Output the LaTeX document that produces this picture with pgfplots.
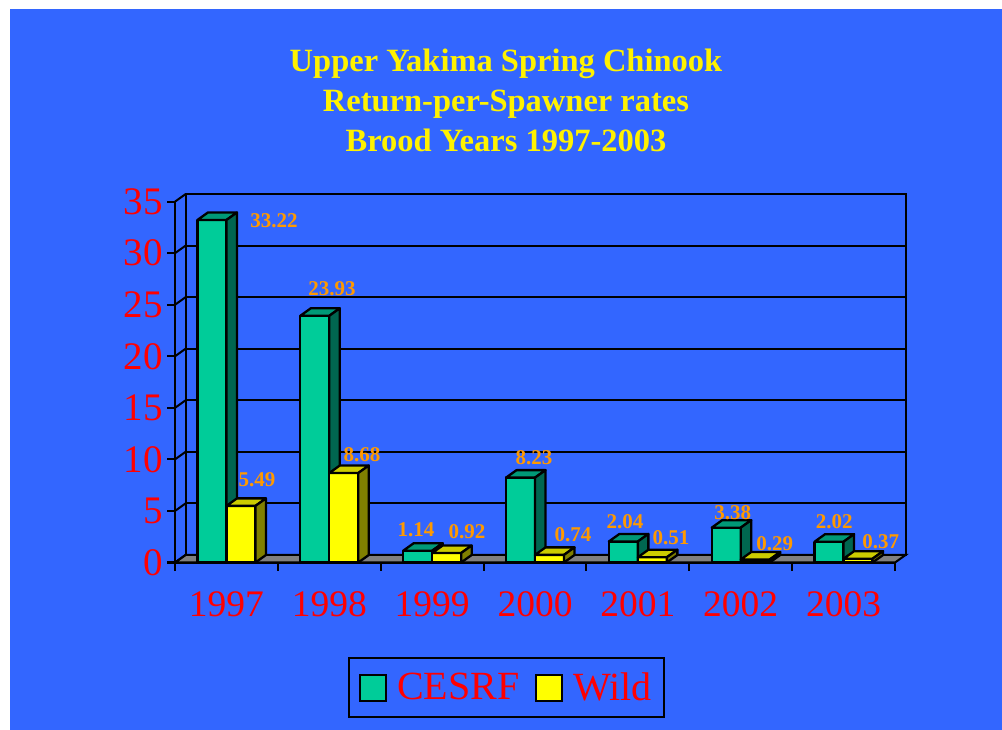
\documentclass[border=0pt]{standalone}
\usepackage{pgfplots}
\pgfplotsset{compat=1.18}
\usepackage{pgfplotstable}
\usepackage{fontspec}
\setmainfont{Liberation Serif}

\definecolor{bg}{HTML}{3366FF}
\definecolor{cfront}{HTML}{00CC99}
\definecolor{ctop}{HTML}{009977}
\definecolor{cside}{HTML}{006650}
\definecolor{wfront}{HTML}{FFFF00}
\definecolor{wtop}{HTML}{CCCC00}
\definecolor{wside}{HTML}{808000}
\definecolor{lab}{HTML}{FF9900}
\definecolor{floorgray}{HTML}{808080}

\pgfplotstableread{
x v lx ly
0 33.22 47.6 -1
1 23.93 2.7 26.8
2 1.14 -16.2 20.7
3 8.23 -1.1 19.6
4 2.04 -13 19.8
5 3.38 -7.9 14.7
6 2.02 -9.3 20
}\cesrf
\pgfplotstableread{
x v lx ly
0 5.49 30.6 25.9
1 8.68 32.7 18
2 0.92 34.8 21.3
3 0.74 37.9 19.9
4 0.51 33 19.2
5 0.29 34.1 15.5
6 0.37 37.2 17
}\wild

\def\val{0}\def\lx{0}\def\ly{0}
% 3D box mark: #1 left offset of the front face (bp), #2 front, #3 top, #4 side colour
\newcommand\boxmark[4]{%
  \pgfmathsetmacro\hb{\val*10.31}%
  \pgfmathsetmacro\xa{#1}%
  \pgfmathsetmacro\xb{#1+29}%
  \pgfmathsetmacro\xc{#1+39.5}%
  \pgfmathsetmacro\xd{#1+10.5}%
  \pgfmathsetmacro\hc{7.5-\val*10.31}%
  \pgfsetlinewidth{2.3bp}\pgfsetstrokecolor{black}\pgfsetroundjoin
  \pgfsetfillcolor{#2}%
  \pgfpathrectanglecorners{\pgfpoint{\xa bp}{-\hb bp}}{\pgfpoint{\xb bp}{0bp}}%
  \pgfusepath{fill,stroke}%
  \pgfsetfillcolor{#3}%
  \pgfpathmoveto{\pgfpoint{\xa bp}{0bp}}%
  \pgfpathlineto{\pgfpoint{\xb bp}{0bp}}%
  \pgfpathlineto{\pgfpoint{\xc bp}{7.5bp}}%
  \pgfpathlineto{\pgfpoint{\xd bp}{7.5bp}}%
  \pgfpathclose
  \pgfusepath{fill,stroke}%
  \pgfsetfillcolor{#4}%
  \pgfpathmoveto{\pgfpoint{\xb bp}{0bp}}%
  \pgfpathlineto{\pgfpoint{\xc bp}{7.5bp}}%
  \pgfpathlineto{\pgfpoint{\xc bp}{\hc bp}}%
  \pgfpathlineto{\pgfpoint{\xb bp}{-\hb bp}}%
  \pgfpathclose
  \pgfusepath{fill,stroke}%
}
\pgfdeclareplotmark{cbox}{\boxmark{-29}{cfront}{ctop}{cside}}
\pgfdeclareplotmark{wbox}{\boxmark{0}{wfront}{wtop}{wside}}

\pgfplotsset{
  common/.style={scale only axis, x=102.86bp, y=10.31bp, xmin=-0.5, xmax=6.5,
    ymin=0, ymax=35, anchor=south west, clip=false},
  box3d/.style={only marks, mark=#1,
    point meta=\thisrow{v},
    visualization depends on={\thisrow{v} \as \val},
    visualization depends on={\thisrow{lx} \as \lx},
    visualization depends on={\thisrow{ly} \as \ly},
    nodes near coords={\pgfmathprintnumber[fixed,fixed zerofill,precision=2]{\pgfplotspointmeta}},
    every node near coord/.append style={anchor=center, xshift=\lx bp, yshift=\ly bp,
      font=\bfseries\fontsize{21bp}{21bp}\selectfont, text=lab, inner sep=0pt},
  },
}

\begin{document}
\begin{tikzpicture}
\useasboundingbox (0,0) rectangle (1002bp,730bp);
\fill[white] (0,0) rectangle (1002bp,730bp);
\fill[bg] (10bp,0) rectangle (1002bp,721bp);

\node[anchor=base, text=yellow, font=\bfseries\fontsize{32.5bp}{32.5bp}\selectfont] at (506bp,658bp) {Upper Yakima Spring Chinook};
\node[anchor=base, text=yellow, font=\bfseries\fontsize{32.5bp}{32.5bp}\selectfont] at (506bp,618bp) {Return-per-Spawner rates};
\node[anchor=base, text=yellow, font=\bfseries\fontsize{32.5bp}{32.5bp}\selectfont] at (506bp,578bp) {Brood Years 1997-2003};

% back wall
\begin{axis}[common, at={(185.5bp,175bp)},
  axis line style={line width=2bp, black},
  xtick=\empty, ytick={0,5,...,35}, yticklabels={}, major tick length=0pt,
  ymajorgrids, grid style={black, line width=2bp},
  axis background/.style={fill=bg}]
\end{axis}

% front
\begin{axis}[common, at={(175bp,167.5bp)},
  axis x line=bottom, axis y line=left,
  axis line style={-, line width=2bp, black},
  tick align=outside, major tick length=8bp,
  every tick/.style={line width=2bp, black},
  xtick={-0.5,0.5,...,6.5}, x tick label as interval,
  xticklabels={1997,1998,1999,2000,2001,2002,2003},
  ytick={0,5,...,35},
  ticklabel style={text=red},
  yticklabel style={inner sep=1bp, xshift=-3bp, font=\fontsize{39bp}{39bp}\selectfont},
  xticklabel style={inner sep=1bp, yshift=-20bp, font=\fontsize{37.5bp}{37.5bp}\selectfont},
  /pgf/number format/assume math mode=true,
  legend style={at={(0.4604,-0.3464)}, anchor=center, draw=black, line width=2bp,
    fill=bg, text=red, font=\fontsize{40bp}{40bp}\selectfont,
    inner xsep=10.5bp, inner ysep=13bp,
    legend columns=2,
    /tikz/every odd column/.append style={column sep=8bp},
    /tikz/every even column/.append style={column sep=14bp}},
  legend cell align=left,
]
\filldraw[fill=floorgray, draw=black, line width=2bp] (axis cs:-0.5,0) -- (axis cs:6.5,0) -- ++(10.5bp,7.5bp) -- ([shift={(10.5bp,7.5bp)}]axis cs:-0.5,0) -- cycle;
\pgfplotsinvokeforeach{0,5,...,35}{\draw[line width=2bp] (axis cs:-0.5,#1) -- ++(10.5bp,7.5bp);}

\addplot[box3d=cbox,
  legend image code/.code={\filldraw[fill=cfront, draw=black, line width=2bp] (0bp,-13bp) rectangle (26bp,13bp);}]
  table[x=x, y=v] {\cesrf};
\addlegendentry{CESRF}
\addplot[box3d=wbox,
  legend image code/.code={\filldraw[fill=wfront, draw=black, line width=2bp] (0bp,-13bp) rectangle (26bp,13bp);}]
  table[x=x, y=v] {\wild};
\addlegendentry{Wild}
\end{axis}
\end{tikzpicture}
\end{document}
